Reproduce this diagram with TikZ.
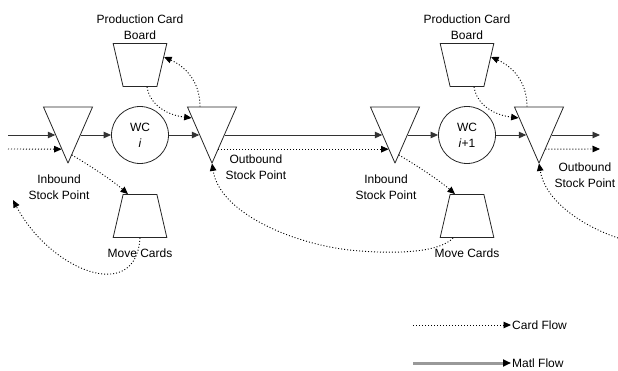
\documentclass[tikz,border=0pt]{standalone}
\usepackage{fontspec}
\setmainfont{Liberation Sans}
\usetikzlibrary{shapes.geometric,arrows.meta,positioning,calc}

\tikzset{
  stockpt/.style={draw=black!85, line width=0.8pt, trapezium, shape border rotate=180,
    trapezium angle=66.4, minimum size=0pt, inner xsep=0.05pt, inner ysep=28pt},
  cardboard/.style={draw=black!85, line width=0.8pt, trapezium, trapezium angle=77,
    minimum size=0pt, inner xsep=16.9pt, inner ysep=21.5pt},
  wcnode/.style={draw=black!85, line width=0.8pt, circle, minimum size=57pt,
    inner sep=0pt, align=center},
  matl/.style={draw=black!80, line width=0.9pt, -{Triangle[length=7.5pt,width=6.5pt]}},
  card/.style={line width=0.9pt, dash pattern=on 1pt off 2pt,
    -{Triangle[length=7.5pt,width=6.5pt]}},
  matlkey/.style={black!40, line width=3pt, -{Triangle[length=8pt,width=7pt,black]}},
}

\begin{document}
\begin{tikzpicture}[x=1pt,y=-1pt,every node/.style={font=\fontsize{12}{16}\selectfont}]
\useasboundingbox (0,0) rectangle (618,371);

% the two work centres
\foreach \m/\dx/\no/\ox/\oy in {A/0/\textit{i}/10/-12, B/327/\textit{i}+1/12/-4}{
  \node[stockpt] (in\m) at (68+\dx,135) {};
  \node[wcnode] (wc\m) at (140+\dx,135) {WC\\\no};
  \node[stockpt] (out\m) at (212+\dx,135) {};
  \node[cardboard, shape border rotate=180] (prod\m) at (140+\dx,65) {};
  \node[cardboard] (move\m) at (140+\dx,216) {};
  \node[align=center, above=0pt of prod\m] (prod\m-lbl) {Production Card\\Board};
  \node[below=7pt of move\m] (move\m-lbl) {Move Cards};
  \node[align=center, anchor=north] (in\m-lbl) at ($(in\m.south)+(-9,8)$) {Inbound\\Stock Point};
  \node[align=center, anchor=north west] (out\m-lbl) at ($(out\m.south)+(\ox,\oy)$) {Outbound\\Stock Point};
  \draw[matl] (in\m.east) -- (wc\m);
  \draw[matl] (wc\m) -- (out\m.west);
  \draw[card] ($(in\m.east)!.7!(in\m.south)$) .. controls +(20,12) and +(-16,-14) .. ($(move\m.north)+(-12,0)$);
  \draw[card] ($(prod\m.south)+(7,0)$) .. controls +(3,18) and +(-25,-3) .. ($(out\m.west)!-.6!(out\m.south)$);
  \draw[card] ($(out\m.north)+(-12,0)$) .. controls +(0,-28) and +(18,8) .. ($(prod\m.east)+(1.8,-8)$);
}

\coordinate (matlin) at (8,135);
\coordinate (matlout) at (600,135);
\coordinate (cardin) at (8,149);
\coordinate (cardout) at (600,149);
\coordinate (cardret) at (13,200);
\coordinate (cardrr) at (618,238);

% material flow
\draw[matl] (matlin) -- (inA.west);
\draw[matl] (outA.east) -- (inB.west);
\draw[matl] (outB.east) -- (matlout);

% card flow
\draw[card] (cardin) -- ($(inA.west)!.5!(inA.south)$);
\draw[card] ($(outA.east)!.5!(outA.south)$) -- ($(inB.west)!.5!(inB.south)$);
\draw[card] ($(outB.east)!.5!(outB.south)$) -- (cardout);
\draw[card] (moveA.south) .. controls (136,305) and (50,270) .. (cardret);
\draw[card] ($(moveB.south)+(-14,0)$) .. controls (440,252) and (400,254) .. (360,251)
  .. controls (300,247) and (220,215) .. (outA.south);
\draw[card] (cardrr) .. controls (580,225) and (545,200) .. (outB.south);

% legend
\coordinate (keycard) at (413,325);
\coordinate (keymatl) at (413,363);
\node[anchor=west, inner sep=1pt] (keycard-lbl) at (511,325) {Card Flow};
\node[anchor=west, inner sep=1pt] (keymatl-lbl) at (511,363) {Matl Flow};
\draw[card] (keycard) -- (keycard-lbl.west);
\draw[matlkey] (keymatl) -- (keymatl-lbl.west);
\end{tikzpicture}
\end{document}
